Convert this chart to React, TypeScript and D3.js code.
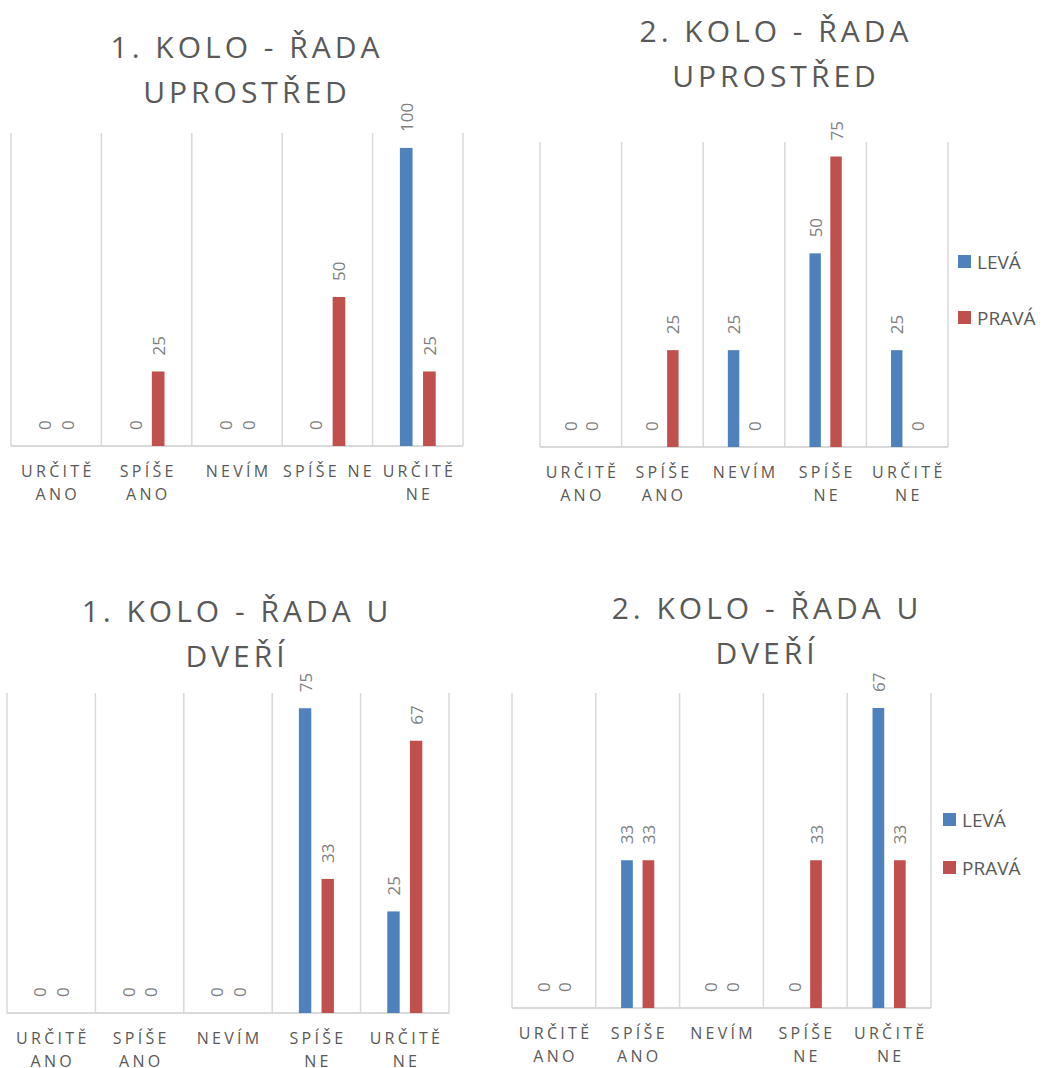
import React from 'react';
import * as d3 from 'd3';

const categories = ['URČITĚ ANO', 'SPÍŠE ANO', 'NEVÍM', 'SPÍŠE NE', 'URČITĚ NE'];
const seriesNames = ['LEVÁ', 'PRAVÁ'];

const title1 = ['1. KOLO - ŘADA', 'UPROSTŘED'];
const leva1 = [0, 0, 0, 0, 100];
const prava1 = [0, 25, 0, 50, 25];

const title2 = ['2. KOLO - ŘADA', 'UPROSTŘED'];
const leva2 = [0, 0, 25, 50, 25];
const prava2 = [0, 25, 0, 75, 0];

const title3 = ['1. KOLO - ŘADA U', 'DVEŘÍ'];
const leva3 = [0, 0, 0, 75, 25];
const prava3 = [0, 0, 0, 33, 67];

const title4 = ['2. KOLO - ŘADA U', 'DVEŘÍ'];
const leva4 = [0, 33, 0, 0, 67];
const prava4 = [0, 33, 0, 33, 33];

const COLORS = ['#4f81bd', '#c0504d'];
const FONT = '"Open Sans", "Noto Sans", sans-serif';
const CAT_FS = 16;
const CAT_LS = 3.3;

let ctx: CanvasRenderingContext2D | null = null;
function measure(s: string) {
  if (!ctx) ctx = document.createElement('canvas').getContext('2d');
  if (!ctx) return s.length * 10;
  ctx.font = `${CAT_FS}px "Open Sans"`;
  return ctx.measureText(s).width + CAT_LS * (s.length - 1);
}
function wrap(label: string, maxW: number) {
  const words = label.split(' ');
  const lines: string[] = [];
  let line = words[0];
  for (let i = 1; i < words.length; i++) {
    const t = line + ' ' + words[i];
    if (measure(t) <= maxW) line = t;
    else { lines.push(line); line = words[i]; }
  }
  lines.push(line);
  return lines;
}

type PanelProps = {
  title: string[]; leva: number[]; prava: number[];
  x0: number; x1: number; yTop: number; yBase: number;
  titleX: number; titleY: number;
  legend?: { x: number; y: number; step: number };
};

function Panel(p: PanelProps) {
  const x = d3.scaleBand<string>().domain(categories).range([p.x0, p.x1]).padding(0);
  const bw = x.bandwidth();
  const maxV = d3.max([...p.leva, ...p.prava]) as number;
  const y = d3.scaleLinear().domain([0, maxV * 1.05]).range([p.yBase, p.yTop]);
  const barW = bw * 0.14;
  const off = bw * 0.128;
  const series = [p.leva, p.prava];
  const bounds = [p.x0, ...categories.map(c => (x(c) as number) + bw)];
  return (
    <g>
      {p.title.map((t, i) => (
        <text key={i} x={p.titleX} y={p.titleY + i * 44.5} textAnchor="middle"
          fontFamily={FONT} fontSize={30} letterSpacing={4} fill="#595959">{t}</text>
      ))}
      {bounds.map((bx, i) => (
        <line key={i} x1={bx} x2={bx} y1={p.yTop} y2={p.yBase} stroke="#d9d9d9" strokeWidth={1.5} />
      ))}
      <line x1={p.x0} x2={p.x1} y1={p.yBase} y2={p.yBase} stroke="#d9d9d9" strokeWidth={2} />
      {series.map((vals, si) => vals.map((v, ci) => {
        const cx = (x(categories[ci]) as number) + bw / 2 + (si === 0 ? -off : off);
        const top = y(v);
        return (
          <g key={`${si}-${ci}`}>
            {v > 0 && <rect x={cx - barW / 2} y={top} width={barW} height={p.yBase - top} fill={COLORS[si]} />}
            <text transform={`translate(${cx},${top - 16}) rotate(-90)`} textAnchor="start"
              dominantBaseline="central" fontFamily={FONT} fontSize={17} fill="#7f7f7f">{v}</text>
          </g>
        );
      }))}
      {categories.map(c => {
        const lines = wrap(c, bw - 1);
        const cx = (x(c) as number) + bw / 2 + CAT_LS / 2;
        return lines.map((l, i) => (
          <text key={c + i} x={cx} y={p.yBase + 31 + i * 23} textAnchor="middle"
            fontFamily={FONT} fontSize={CAT_FS} letterSpacing={CAT_LS} fill="#595959">{l}</text>
        ));
      })}
      {p.legend && seriesNames.map((s, i) => (
        <g key={s}>
          <rect x={p.legend!.x} y={p.legend!.y + i * p.legend!.step} width={13} height={13} fill={COLORS[i]} />
          <text x={p.legend!.x + 19} y={p.legend!.y + i * p.legend!.step + 6.5} dominantBaseline="central"
            fontFamily={FONT} fontSize={19} fill="#595959">{s}</text>
        </g>
      ))}
    </g>
  );
}

export default function App() {
  return (
    <svg width={1057} height={1068} style={{ position: 'absolute', left: 0, top: 0, background: '#fff' }}>
      <rect width={1057} height={1068} fill="#fff" />
      <Panel title={title1} leva={leva1} prava={prava1} x0={11} x1={463} yTop={133} yBase={446} titleX={247} titleY={58} />
      <Panel title={title2} leva={leva2} prava={prava2} x0={540} x1={948} yTop={142} yBase={447} titleX={776} titleY={42}
        legend={{ x: 958, y: 255, step: 56 }} />
      <Panel title={title3} leva={leva3} prava={prava3} x0={7} x1={449} yTop={693} yBase={1013} titleX={237} titleY={622} />
      <Panel title={title4} leva={leva4} prava={prava4} x0={512} x1={931} yTop={693} yBase={1008} titleX={767} titleY={619}
        legend={{ x: 943, y: 813, step: 48 }} />
    </svg>
  );
}
